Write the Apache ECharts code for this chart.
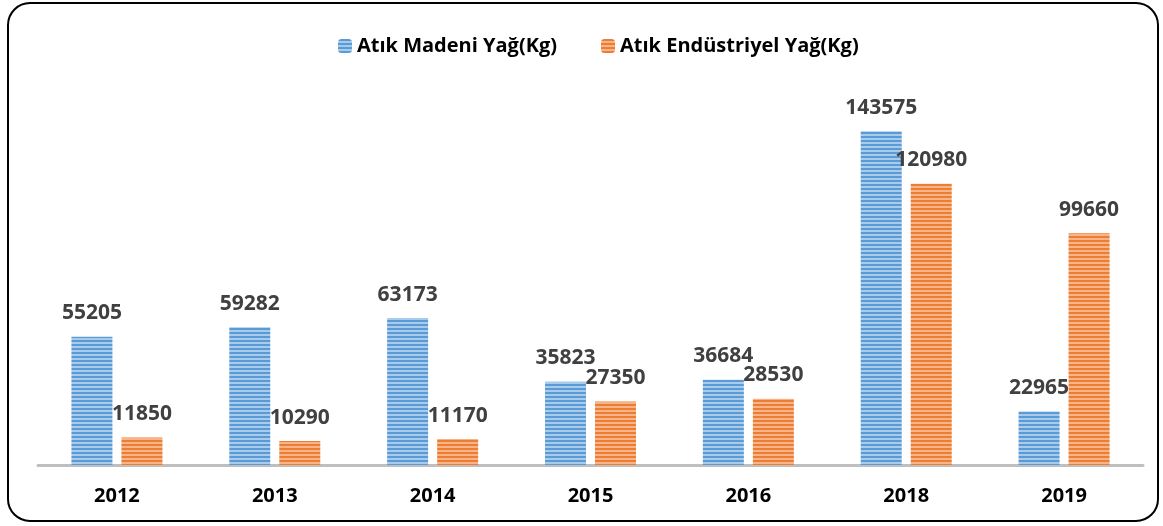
<!DOCTYPE html>
<html>
<head>
<meta charset="utf-8">
<script src="https://cdn.jsdelivr.net/npm/echarts@6/dist/echarts.min.js"></script>
<style>
  html, body { margin: 0; padding: 0; background: #fff; }
  #chart { width: 1163px; height: 526px; }
</style>
</head>
<body>
<div id="chart"></div>
<script>
// veriler
var years = ['2012', '2013', '2014', '2015', '2016', '2018', '2019'];
var madeniYag = [55205, 59282, 63173, 35823, 36684, 143575, 22965];
var endustriyelYag = [11850, 10290, 11170, 27350, 28530, 120980, 99660];
var seriesNames = ['Atık Madeni Yağ(Kg)', 'Atık Endüstriyel Yağ(Kg)'];

// yatay çizgili dolgu
function stripes(dark, light) {
  var c = document.createElement('canvas');
  c.width = 8;
  c.height = 4;
  var ctx = c.getContext('2d');
  ctx.fillStyle = light;
  ctx.fillRect(0, 0, 8, 4);
  ctx.fillStyle = dark;
  ctx.fillRect(0, 0, 8, 2);
  return { image: c, repeat: 'repeat' };
}

var fontName = '"Open Sans", "Noto Sans", sans-serif';
var myChart = echarts.init(document.getElementById('chart'));
var labelStyle = {
  show: true,
  position: 'top',
  distance: 13,
  color: '#404040',
  fontWeight: 'bold',
  fontSize: 21,
  fontFamily: fontName
};

var option = {
  animation: false,
  graphic: [{
    type: 'rect',
    shape: { x: 8, y: 3, width: 1150, height: 518, r: 22 },
    style: { fill: 'none', stroke: '#000', lineWidth: 2 }
  }],
  legend: {
    top: 31,
    left: 333,
    itemWidth: 14,
    itemHeight: 14,
    itemGap: 44,
    textStyle: { color: '#000', fontWeight: 'bold', fontSize: 20, fontFamily: fontName },
    data: seriesNames
  },
  grid: { left: 38, right: 20, top: 93, bottom: 61 },
  xAxis: {
    type: 'category',
    data: years,
    axisLine: { lineStyle: { color: '#bfbfbf', width: 3 } },
    axisTick: { show: false },
    axisLabel: { margin: 21, color: '#000', fontWeight: 'bold', fontSize: 20, fontFamily: fontName }
  },
  yAxis: {
    type: 'value',
    min: 0,
    max: 160000,
    show: false,
    splitLine: { show: false }
  },
  series: [
    {
      name: seriesNames[0],
      type: 'bar',
      data: madeniYag,
      barWidth: 41,
      barGap: '22%',
      itemStyle: { color: stripes('#5b9bd5', '#a9cbeb') },
      label: labelStyle
    },
    {
      name: seriesNames[1],
      type: 'bar',
      data: endustriyelYag,
      barWidth: 41,
      itemStyle: { color: stripes('#ed7d31', '#f6b48a') },
      label: labelStyle
    }
  ]
};
myChart.setOption(option);
</script>
</body>
</html>
